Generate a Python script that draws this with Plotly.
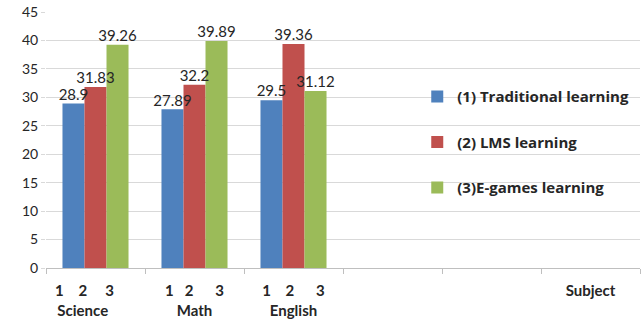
import plotly.graph_objects as go

# Subject scores per learning method
subjects = ["Science", "Math", "English"]
traditional = [28.9, 27.89, 29.5]
lms = [31.83, 32.2, 39.36]
egames = [39.26, 39.89, 31.12]

series_names = ["(1) Traditional learning", "(2) LMS learning", "(3)E-games learning"]
series_colors = ["#4F81BD", "#C0504D", "#9BBB59"]

# Category slots on the x axis (three subjects, two empty slots, axis title slot)
categories = ["Science", "Math", "English", "_e1", "_e2", "Subject"]
NB = "\u00a0"
tick_labels = [
    "1" + NB * 4 + "2" + NB * 5 + "3" + NB * 6 + "<br>Science" + NB * 7,
    "1" + NB * 3 + "2" + NB * 6 + "3" + "<br>Math",
    "1" + NB * 4 + "2" + NB * 6 + "3" + "<br>English",
    "",
    "",
    "Subject",
]

FONT = "Lato"
all_values = [traditional, lms, egames]
fig = go.Figure()

# Bars
for i, (name, vals, color) in enumerate(zip(series_names, all_values, series_colors)):
    fig.add_trace(go.Bar(
        x=subjects,
        y=vals,
        name=name,
        legendgroup=name,
        offsetgroup=str(i),
        marker=dict(color=color, line=dict(width=0)),
    ))

# Value labels, drawn above all bars
for i, vals in enumerate(all_values):
    fig.add_trace(go.Scatter(
        x=subjects,
        y=vals,
        mode="text",
        offsetgroup=str(i),
        legendgroup=series_names[i],
        text=[f"{v:g}" for v in vals],
        textposition="top center",
        textfont=dict(family=FONT, size=15, color="#262626"),
        showlegend=False,
        hoverinfo="skip",
        cliponaxis=False,
    ))

fig.update_layout(
    width=642,
    height=320,
    margin=dict(l=46, r=2, t=12, b=52),
    paper_bgcolor="white",
    plot_bgcolor="white",
    barmode="group",
    scattermode="group",
    bargap=0.333,
    scattergap=0.333,
    bargroupgap=0,
    font=dict(family=FONT, size=14, color="#262626"),
    legend=dict(
        x=0.625, y=0.733, xanchor="left", yanchor="top",
        font=dict(family="Open Sans", size=15, color="#262626", weight="bold"),
        traceorder="grouped",
        tracegroupgap=23,
        itemwidth=30,
        itemclick=False,
        bgcolor="rgba(0,0,0,0)",
    ),
    showlegend=True,
)
fig.update_xaxes(
    type="category",
    categoryorder="array",
    categoryarray=categories,
    range=[-0.5, 5.5],
    tickvals=categories,
    ticktext=tick_labels,
    tickson="boundaries",
    ticks="outside",
    ticklen=5,
    tickcolor="#BFBFBF",
    ticklabelstandoff=9,
    showline=True,
    linecolor="#BFBFBF",
    linewidth=1,
    showgrid=False,
    tickfont=dict(family=FONT, size=15, color="#262626", weight="bold"),
)
fig.update_yaxes(
    range=[0, 45],
    dtick=5,
    showgrid=True,
    gridcolor="#D9D9D9",
    gridwidth=1,
    ticks="outside",
    ticklen=4,
    tickcolor="#D9D9D9",
    showline=False,
    zeroline=False,
    tickfont=dict(family=FONT, size=14, color="#262626"),
)

fig.write_html("out.html")
